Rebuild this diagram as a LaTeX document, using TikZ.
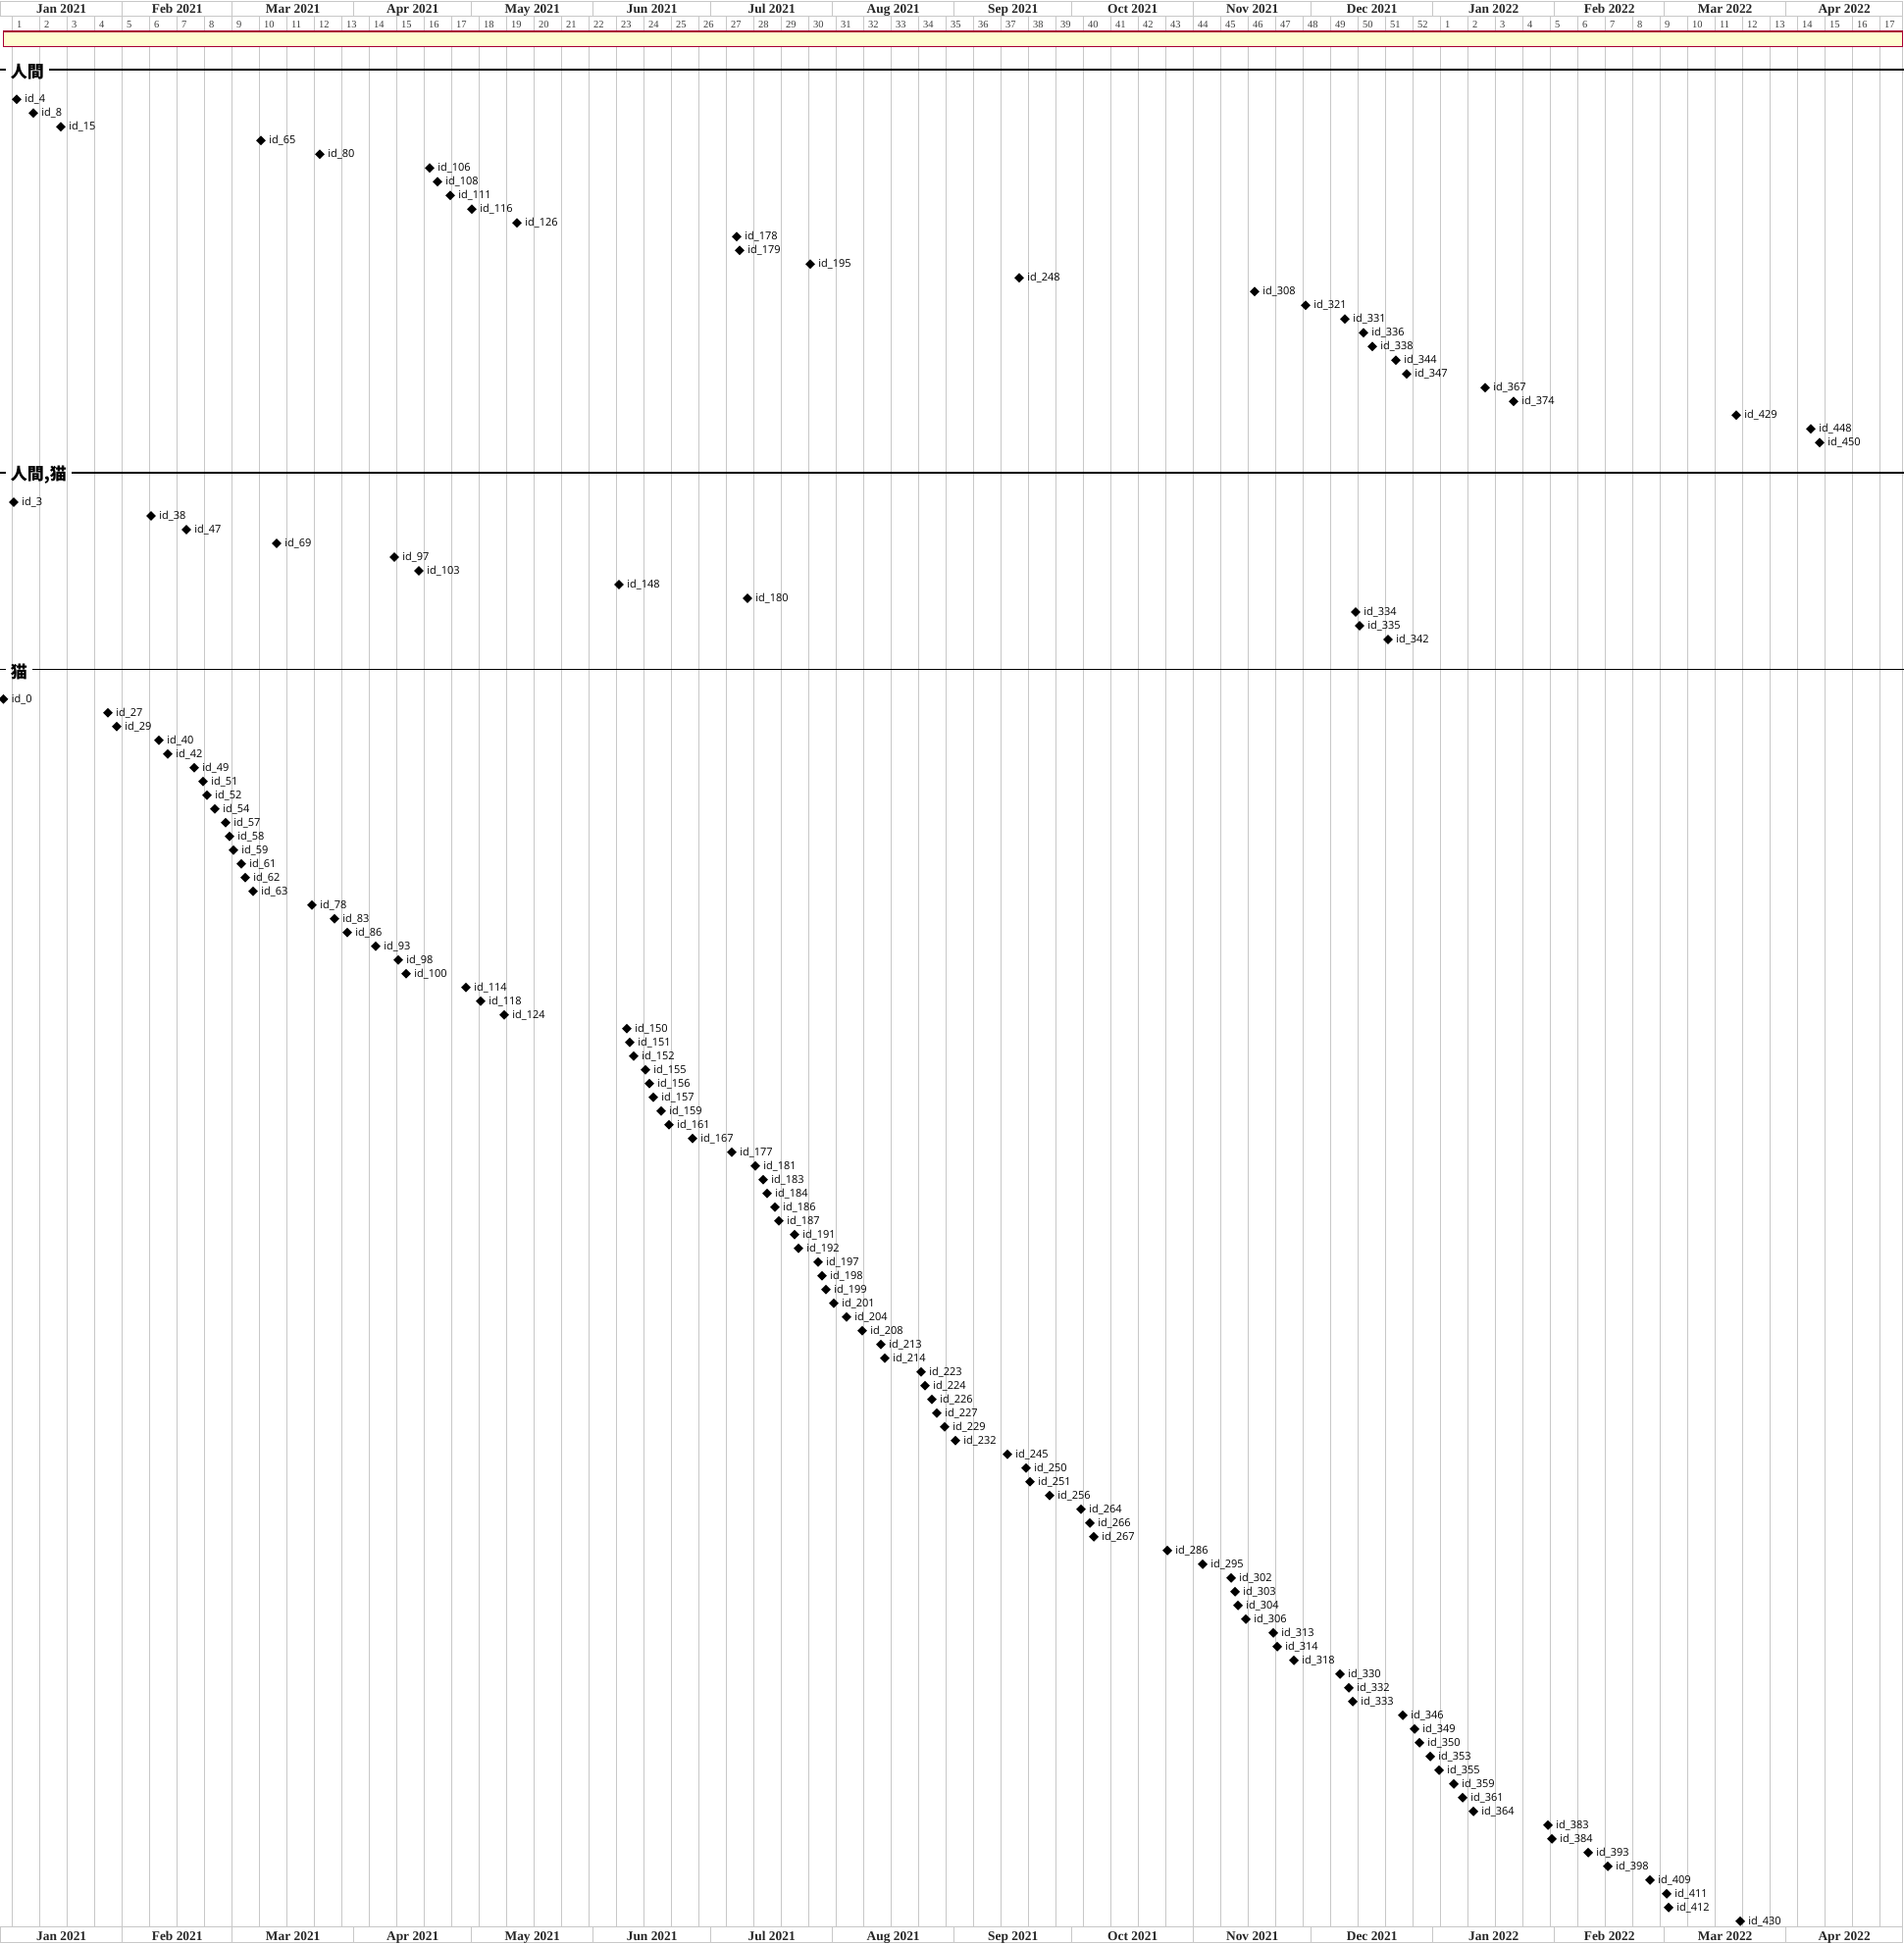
\documentclass[tikz,border=0pt]{standalone}
\usepackage{fontspec}
\setmainfont{Liberation Serif}
\newfontfamily\idfont{Open Sans}
\newfontfamily\cjkfont{Noto Sans CJK JP}
\usepackage{tikz}
\usetikzlibrary{positioning,shapes.geometric}
\definecolor{gridgray}{RGB}{200,200,200}
\definecolor{notefill}{RGB}{255,253,208}
\definecolor{notedraw}{RGB}{168,0,54}

\begin{document}
\begin{tikzpicture}[x=1pt, y=-1pt,
  gridline/.style={draw=gridgray, line width=1pt},
  month/.style={font=\fontsize{13.4}{15}\selectfont\bfseries, text=black!85, inner sep=0pt, anchor=base},
  week/.style={font=\fontsize{10.5}{12}\selectfont, text=black!75, inner sep=0pt, anchor=base west},
  sect/.style={font=\cjkfont\fontsize{17}{20}\selectfont\bfseries, inner xsep=5pt, inner ysep=0pt, anchor=west},
  sectline/.style={draw=black, line width=1.2pt},
  mstone/.style={diamond, fill=black, inner sep=0pt, minimum size=10pt},
  idlabel/.style={font=\idfont\fontsize{11}{13}\selectfont, inner sep=0pt}]
\useasboundingbox (0,0) rectangle (1941,1982);
\foreach \k in {0,...,68}{
  \pgfmathtruncatemacro\w{\k<52 ? \k+1 : \k-51}
  \draw[gridline] ({12.7+28*\k},16) -- ({12.7+28*\k},1964.7);
  \node[week] (w\k) at ({16.9+28*\k},28) {\w};
}
\draw[gridline] (1939.5,16) -- (1939.5,1964.7);
\foreach \a/\b/\m [count=\j] in {0/31/Jan 2021,31/59/Feb 2021,59/90/Mar 2021,90/120/Apr 2021,120/151/May 2021,151/181/Jun 2021,181/212/Jul 2021,212/243/Aug 2021,243/273/Sep 2021,273/304/Oct 2021,304/334/Nov 2021,334/365/Dec 2021,365/396/Jan 2022,396/424/Feb 2022,424/455/Mar 2022,455/484.7/Apr 2022}{
  \draw[gridline] ({0.7+4*\a},1) rectangle ({0.7+4*\b},16);
  \node[month] (mt\j) at ({0.7+2*(\a+\b)},13.3) {\m};
  \draw[gridline] ({0.7+4*\a},1964.7) rectangle ({0.7+4*\b},1980.7);
  \node[month] (mb\j) at ({0.7+2*(\a+\b)},1978) {\m};
}
\node[draw=notedraw, fill=notefill, line width=1.2pt, minimum width=1936pt, minimum height=15.4pt, inner sep=0pt, anchor=north west] (bar) at (2.7,31.3) {};

\coordinate (e1) at (1941,71);
\coordinate (e2) at (1941,482);
\coordinate (e3) at (1941,682.5);
\node[sect] (s1) at (5.7,73) {人間};
\node[sect] (s2) at (5.7,484) {人間,猫};
\node[sect] (s3) at (5.7,684.5) {猫};
\foreach \s in {1,2,3}{
  \draw[sectline] (0,0 |- e\s) -- (s\s.west |- e\s);
  \draw[sectline] (s\s.east |- e\s) -- (e\s);
}

\foreach \x/\n [count=\i from 0] in {17/4,34/8,62/15,266/65,326/80,438/106,446/108,459/111,481/116,527/126,751/178,754/179,826/195,1039/248,1279/308,1331/321,1371/331,1390/336,1399/338,1423/344,1434/347,1514/367,1543/374,1770/429,1846/448,1855/450}{
  \node[mstone] (m\n) at (\x,{101.2+14*\i}) {};
  \node[idlabel, right=3pt of m\n] (l\n) {id\_\n};
}
\foreach \x/\n [count=\i from 0] in {14/3,154/38,190/47,282/69,402/97,427/103,631/148,762/180,1382/334,1386/335,1415/342}{
  \node[mstone] (m\n) at (\x,{512+14*\i}) {};
  \node[idlabel, right=3pt of m\n] (l\n) {id\_\n};
}
\foreach \x/\n [count=\i from 0] in {3.5/0,110/27,119/29,162/40,171/42,198/49,207/51,211/52,219/54,230/57,234/58,238/59,246/61,250/62,258/63,318/78,341/83,354/86,383/93,406/98,414/100,475/114,490/118,514/124,639/150,642/151,646/152,658/155,662/156,666/157,674/159,682/161,706/167,746/177,770/181,778/183,782/184,790/186,794/187,810/191,814/192,834/197,838/198,842/199,850/201,863/204,879/208,898/213,902/214,939/223,943/224,950/226,955/227,963/229,974/232,1027/245,1046/250,1050/251,1070/256,1102/264,1111/266,1115/267,1190/286,1226/295,1255/302,1259/303,1262/304,1270/306,1298/313,1302/314,1319/318,1366/330,1375/332,1379/333,1430/346,1442/349,1447/350,1458/353,1467/355,1482/359,1491/361,1502/364,1578/383,1582/384,1619/393,1639/398,1682/409,1699/411,1701/412,1774/430}{
  \node[mstone] (m\n) at (\x,{712.8+14*\i}) {};
  \node[idlabel, right=3pt of m\n] (l\n) {id\_\n};
}
\end{tikzpicture}
\end{document}
